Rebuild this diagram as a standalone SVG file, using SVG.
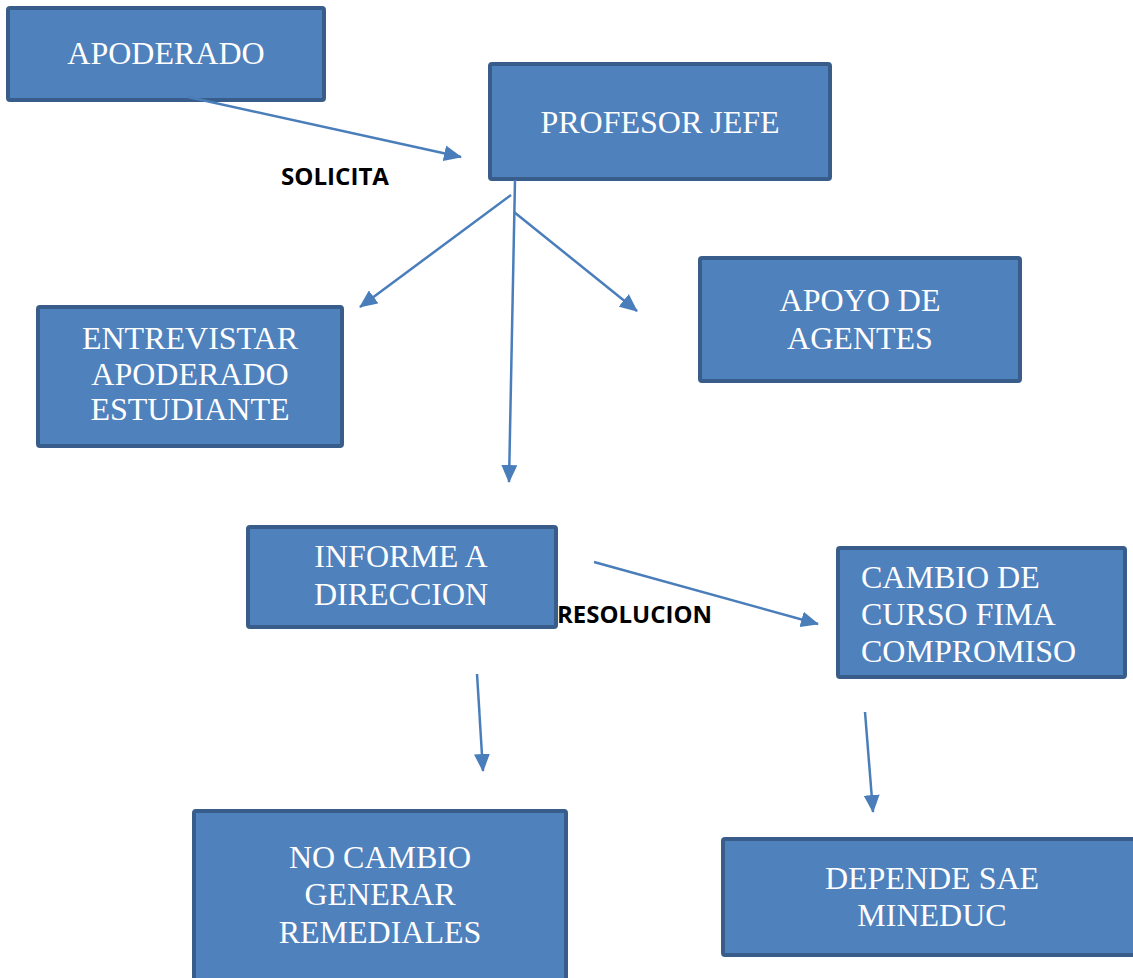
<svg xmlns="http://www.w3.org/2000/svg" width="1133" height="978" viewBox="0 0 1133 978">
<style>
.box{fill:#4F81BD;stroke:#385D8A;stroke-width:4}
.t{font-family:"Liberation Serif",serif;font-size:32px;fill:#fff;text-anchor:middle}
.tl{font-family:"Liberation Serif",serif;font-size:32px;fill:#fff}
.lab{font-family:"Open Sans","Liberation Sans",sans-serif;font-weight:bold;font-size:23px;fill:#000}
.c{stroke:#4A7EBB;stroke-width:2.5;fill:none;marker-end:url(#ah)}
</style>
<defs>
<marker id="ah" markerUnits="userSpaceOnUse" markerWidth="20" markerHeight="16" refX="17" refY="8" orient="auto">
<path d="M0,0 L18,8 L0,16 Z" fill="#4A7EBB"/>
</marker>
</defs>
<g id="apoderado"><rect class="box" x="8" y="8" width="316" height="92" rx="2"/><text class="t" x="166" y="64">APODERADO</text></g>
<g id="profesor"><rect class="box" x="490" y="64" width="340" height="115" rx="2"/><text class="t" x="660" y="133">PROFESOR JEFE</text></g>
<g id="entrevistar"><rect class="box" x="38" y="307" width="304" height="139" rx="2"/><text class="t" x="190" y="349">ENTREVISTAR</text><text class="t" x="190" y="385">APODERADO</text><text class="t" x="190" y="420">ESTUDIANTE</text></g>
<g id="apoyo"><rect class="box" x="700" y="258" width="320" height="123" rx="2"/><text class="t" x="860" y="311">APOYO DE</text><text class="t" x="860" y="349">AGENTES</text></g>
<g id="informe"><rect class="box" x="248" y="527" width="308" height="100" rx="2"/><text class="t" x="401" y="567">INFORME A</text><text class="t" x="401" y="605">DIRECCION</text></g>
<g id="cambio"><rect class="box" x="838" y="548" width="287" height="129" rx="2"/><text class="tl" x="861" y="588">CAMBIO DE</text><text class="tl" x="861" y="625">CURSO FIMA</text><text class="tl" x="861" y="662">COMPROMISO</text></g>
<g id="nocambio"><rect class="box" x="194" y="811" width="372" height="172" rx="2"/><text class="t" x="380" y="868">NO CAMBIO</text><text class="t" x="380" y="905">GENERAR</text><text class="t" x="380" y="943">REMEDIALES</text></g>
<g id="depende"><rect class="box" x="723" y="839" width="420" height="116" rx="2"/><text class="t" x="932" y="889">DEPENDE SAE</text><text class="t" x="932" y="926">MINEDUC</text></g>
<g id="connectors">
<line class="c" x1="188" y1="97" x2="461" y2="157"/>
<line class="c" x1="511" y1="195" x2="360" y2="307"/>
<line class="c" x1="515" y1="180" x2="509" y2="482"/>
<line class="c" x1="514" y1="212" x2="637" y2="311"/>
<line class="c" x1="594" y1="562" x2="818" y2="624"/>
<line class="c" x1="477" y1="674" x2="483" y2="771"/>
<line class="c" x1="865" y1="712" x2="873" y2="812"/>
</g>
<g id="labels">
<text class="lab" x="281" y="185" textLength="108" lengthAdjust="spacingAndGlyphs">SOLICITA</text>
<text class="lab" x="557" y="623" textLength="155" lengthAdjust="spacingAndGlyphs">RESOLUCION</text>
</g>
</svg>
